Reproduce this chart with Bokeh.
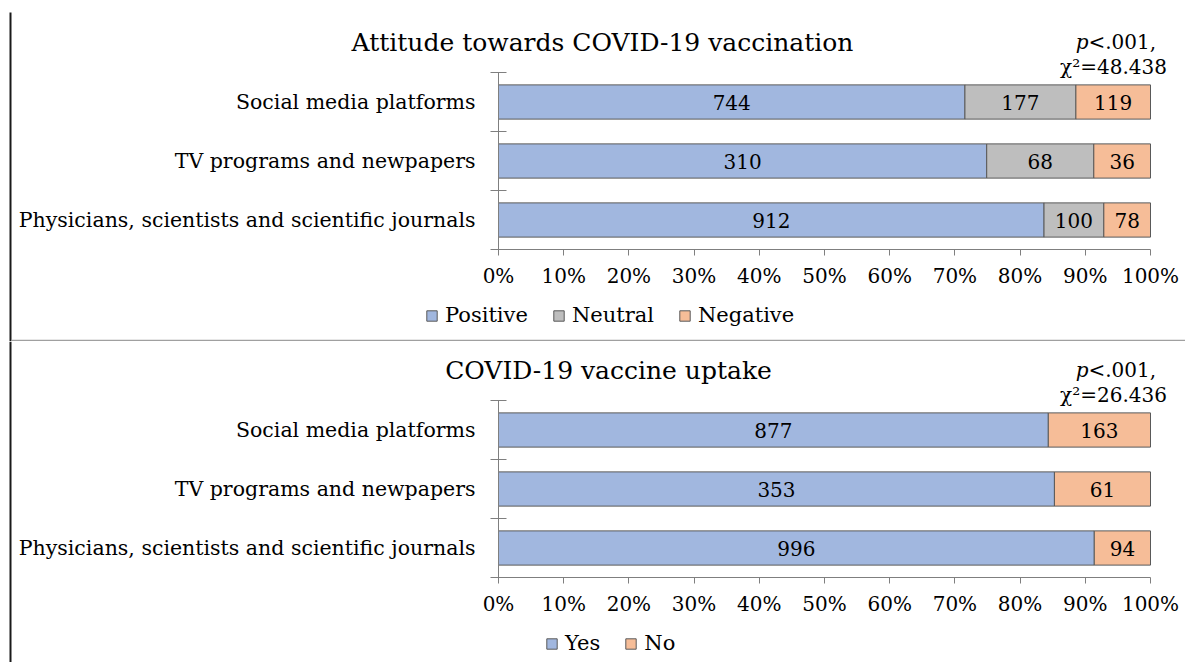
from bokeh.plotting import figure
from bokeh.models import (Range1d, FixedTicker, NumeralTickFormatter, Legend,
                          LegendItem, Label, ColumnDataSource, BoxAnnotation)
from bokeh.layouts import column
from bokeh.embed import file_html
from bokeh.resources import INLINE
from bokeh.core.properties import value

# ---------------- data ----------------
categories = ["Social media platforms",
              "TV programs and newpapers",
              "Physicians, scientists and scientific journals"]

attitude_levels = ["Positive", "Neutral", "Negative"]
positive = [744, 310, 912]
neutral = [177, 68, 100]
negative = [119, 36, 78]

uptake_levels = ["Yes", "No"]
yes = [877, 353, 996]
no = [163, 61, 94]

x_ticks = [0.0, 0.1, 0.2, 0.3, 0.4, 0.5, 0.6, 0.7, 0.8, 0.9, 1.0]

top_title = "Attitude towards COVID-19 vaccination"
bottom_title = "COVID-19 vaccine uptake"
p_letter = "p"
p_rest = "<.001,"
top_chi = "\u03c7\u00b2=48.438"
bottom_chi = "\u03c7\u00b2=26.436"

# ---------------- style / layout ----------------
FONT = "DejaVu Serif"
C_POS = "#A1B7DF"
C_NEU = "#BEBEBE"
C_NEG = "#F6BD98"
EDGE = "#595959"
AXIS = "#7f7f7f"
W = 1185
X0, X1 = 498, 1150          # pixel position of 0 % and 100 %


def make_panel(title, series, names, colors, chi_text, top_px, height,
               frame_top, axis_y, title_x, legend_x, legend_bottom, sep):
    n = len(categories)
    unit = (axis_y - frame_top) / n
    xu = X1 - X0
    x_range = Range1d(-X0 / xu, (W - X0) / xu)
    y_range = Range1d(-(top_px + height - axis_y) / unit, n + (frame_top - top_px) / unit)

    def sy(page_y):
        return top_px + height - page_y

    ys = [n - i - 0.5 for i in range(n)]
    totals = [sum(s[i] for s in series) for i in range(n)]

    p = figure(width=W, height=height, x_range=x_range, y_range=y_range,
               output_backend="svg", toolbar_location=None, min_border=0)
    p.outline_line_color = None
    p.grid.visible = False
    p.background_fill_color = "white"
    p.border_fill_color = "white"

    items = []
    cum = [0.0] * n
    for s, name, col in zip(series, names, colors):
        left = list(cum)
        right = [left[i] + s[i] / totals[i] for i in range(n)]
        mid = [(left[i] + right[i]) / 2 for i in range(n)]
        cum = right
        src = ColumnDataSource(dict(y=ys, left=left, right=right, mid=mid,
                                    label=[str(v) for v in s]))
        r = p.hbar(y="y", left="left", right="right", height=0.58, source=src,
                   fill_color=col, line_color=EDGE, line_width=1)
        p.text(x="mid", y="y", text="label", source=src, text_align="center",
               text_baseline="middle", text_font=value(FONT), text_font_size="20px",
               text_color="#000000")
        items.append(LegendItem(label=name, renderers=[r]))

    xa = p.xaxis[0]
    xa.fixed_location = 0
    xa.bounds = (0, 1)
    xa.ticker = FixedTicker(ticks=x_ticks)
    xa.formatter = NumeralTickFormatter(format="0%")
    xa.major_tick_out = 6
    xa.major_tick_in = 0
    xa.minor_tick_out = 0
    xa.minor_tick_in = 0
    xa.axis_line_color = AXIS
    xa.major_tick_line_color = AXIS
    xa.major_label_standoff = 8
    xa.major_label_text_font = FONT
    xa.major_label_text_font_size = "20px"
    xa.major_label_text_color = "#000000"

    ya = p.yaxis[0]
    ya.fixed_location = 0
    ya.bounds = (0, n)
    ya.ticker = FixedTicker(ticks=ys, minor_ticks=list(range(n + 1)))
    ya.major_label_overrides = {y: c for y, c in zip(ys, categories)}
    ya.major_tick_out = 0
    ya.major_tick_in = 0
    ya.minor_tick_out = 8
    ya.minor_tick_in = 8
    ya.axis_line_color = AXIS
    ya.minor_tick_line_color = AXIS
    ya.major_label_standoff = 15
    ya.major_label_text_font = FONT
    ya.major_label_text_font_size = "20.5px"
    ya.major_label_text_color = "#000000"

    legend = Legend(items=items, orientation="horizontal",
                    location=(legend_x, sy(legend_bottom)),
                    glyph_width=13, glyph_height=13, label_standoff=7, spacing=24,
                    padding=0, margin=0, border_line_color=None,
                    background_fill_alpha=0, label_text_font=FONT,
                    label_text_font_size="21px", label_text_color="#000000")
    p.add_layout(legend)

    # title and statistics
    p.add_layout(Label(x=title_x, y=sy(frame_top - 30), x_units="screen", y_units="screen",
                       text=title, text_align="center", text_baseline="alphabetic",
                       text_font=FONT, text_font_size="25px", text_color="#000000"))
    p.add_layout(Label(x=1088, y=sy(frame_top - 31), x_units="screen", y_units="screen",
                       text=p_letter, text_align="right", text_baseline="alphabetic",
                       text_font=FONT, text_font_style="italic",
                       text_font_size="20px", text_color="#000000"))
    p.add_layout(Label(x=1088, y=sy(frame_top - 31), x_units="screen", y_units="screen",
                       text=p_rest, text_align="left", text_baseline="alphabetic",
                       text_font=FONT, text_font_size="20px", text_color="#000000"))
    p.add_layout(Label(x=1113, y=sy(frame_top - 6), x_units="screen", y_units="screen",
                       text=chi_text, text_align="center", text_baseline="alphabetic",
                       text_font=FONT, text_font_size="20px", text_color="#000000"))

    # frame lines of the original figure (left rule and panel separator)
    p.add_layout(BoxAnnotation(left=9, right=11, bottom=0, top=sy(max(top_px, 12)),
                               left_units="screen", right_units="screen",
                               bottom_units="screen", top_units="screen",
                               fill_color="#1a1a1a", fill_alpha=1, line_alpha=0,
                               level="overlay"))
    if sep is not None:
        p.add_layout(BoxAnnotation(left=11, right=W, bottom=sy(sep[1]), top=sy(sep[0]),
                                   left_units="screen", right_units="screen",
                                   bottom_units="screen", top_units="screen",
                                   fill_color="#a0a0a0", fill_alpha=1, line_alpha=0,
                                   level="overlay"))
    return p


p1 = make_panel(top_title, [positive, neutral, negative], attitude_levels,
                [C_POS, C_NEU, C_NEG], top_chi, 0, 341, 72, 249, 602, 425, 327,
                (339.2, 341))
p2 = make_panel(bottom_title, [yes, no], uptake_levels,
                [C_POS, C_NEG], bottom_chi, 341, 321, 400, 577, 608, 545, 655, None)

layout = column(p1, p2, spacing=0)
open("out.html", "w").write(file_html(layout, INLINE))
